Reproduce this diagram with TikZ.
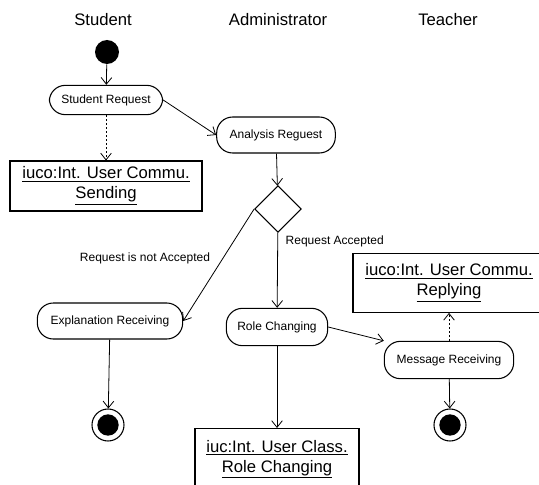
\documentclass[tikz,border=0pt]{standalone}
\usepackage{fontspec}
\setmainfont{Liberation Sans}
\usetikzlibrary{shapes.geometric, arrows.meta}

\begin{document}
\begin{tikzpicture}[x=0.75pt, y=-0.75pt,
  lanetitle/.style={font=\fontsize{12.5}{14}\selectfont},
  actstate/.style={draw=black, thick, rounded corners=12pt, inner sep=2pt,
    font=\fontsize{9}{11}\selectfont},
  objbox/.style={draw=black, thick, align=center, inner sep=3pt,
    font=\fontsize{12.5}{15}\selectfont},
  decision/.style={draw=black, thick, diamond, aspect=1, inner sep=0pt, minimum size=35pt},
  startdot/.style={circle, fill=black, inner sep=0pt, minimum size=18pt},
  enddot/.style={circle, draw=black, thick, inner sep=0pt, minimum size=24pt,
    path picture={\fill[black] (path picture bounding box.center) circle (8pt);}},
  flow/.style={draw=black, semithick, -{Straight Barb[length=5pt, width=8pt]}},
  dep/.style={flow, dash pattern=on 1.5pt off 1.5pt},
  guard/.style={font=\fontsize{9}{11}\selectfont}]
  \useasboundingbox (0,0) rectangle (539,485);

  % swimlane titles
  \node[lanetitle] (tstud) at (103,20) {Student};
  \node[lanetitle] (tadm) at (278,20) {Administrator};
  \node[lanetitle] (tteach) at (448,20) {Teacher};

  % Student
  \node[startdot] (start) at (107,52) {};
  \node[actstate, minimum width=85pt, minimum height=22pt] (req) at (106,100) {Student Request};
  \node[objbox, minimum width=144pt, minimum height=37.5pt] (send) at (106,186)
    {\underline{iuco:Int. User Commu.}\\\underline{Sending}};
  \node[actstate, minimum width=109pt, minimum height=27pt] (expl) at (110,321) {Explanation Receiving};
  \node[enddot] (endS) at (108,425) {};

  % Administrator
  \node[actstate, minimum width=89pt, minimum height=27pt] (ana) at (276,135) {Analysis Reguest};
  \node[decision] (dec) at (278,209) {};
  \node[actstate, minimum width=76pt, minimum height=28pt] (role) at (277,327) {Role Changing};
  \node[objbox, minimum width=123pt, minimum height=46pt, anchor=north] (cls) at (277,428)
    {\underline{iuc:Int. User Class.}\\\underline{Role Changing}};

  % Teacher
  \node[actstate, minimum width=97pt, minimum height=28pt] (msg) at (449,360) {Message Receiving};
  \node[objbox, minimum width=144pt, minimum height=44pt] (reply) at (449,283)
    {\underline{iuco:Int. User Commu.}\\\underline{Replying}};
  \node[enddot] (endT) at (450,425) {};

  % guards
  \node[guard, anchor=west] (gyes) at (281,241) {Request Accepted};
  \node[guard] (gno) at (145,258) {Request is not Accepted};

  % transitions
  \draw[flow] (start) -- (req);
  \draw[dep] (req) -- (send);
  \draw[flow] (req.east) -- (ana.west);
  \draw[flow] (ana) -- (dec);
  \draw[flow] (dec.west) -- (expl.east);
  \draw[flow] (dec) -- (role);
  \draw[flow] (expl) -- (endS);
  \draw[flow] (role) -- (cls);
  \draw[flow] (role.east) -- (msg.north west);
  \draw[dep] (msg) -- (reply);
  \draw[flow] (msg) -- (endT);
\end{tikzpicture}
\end{document}
